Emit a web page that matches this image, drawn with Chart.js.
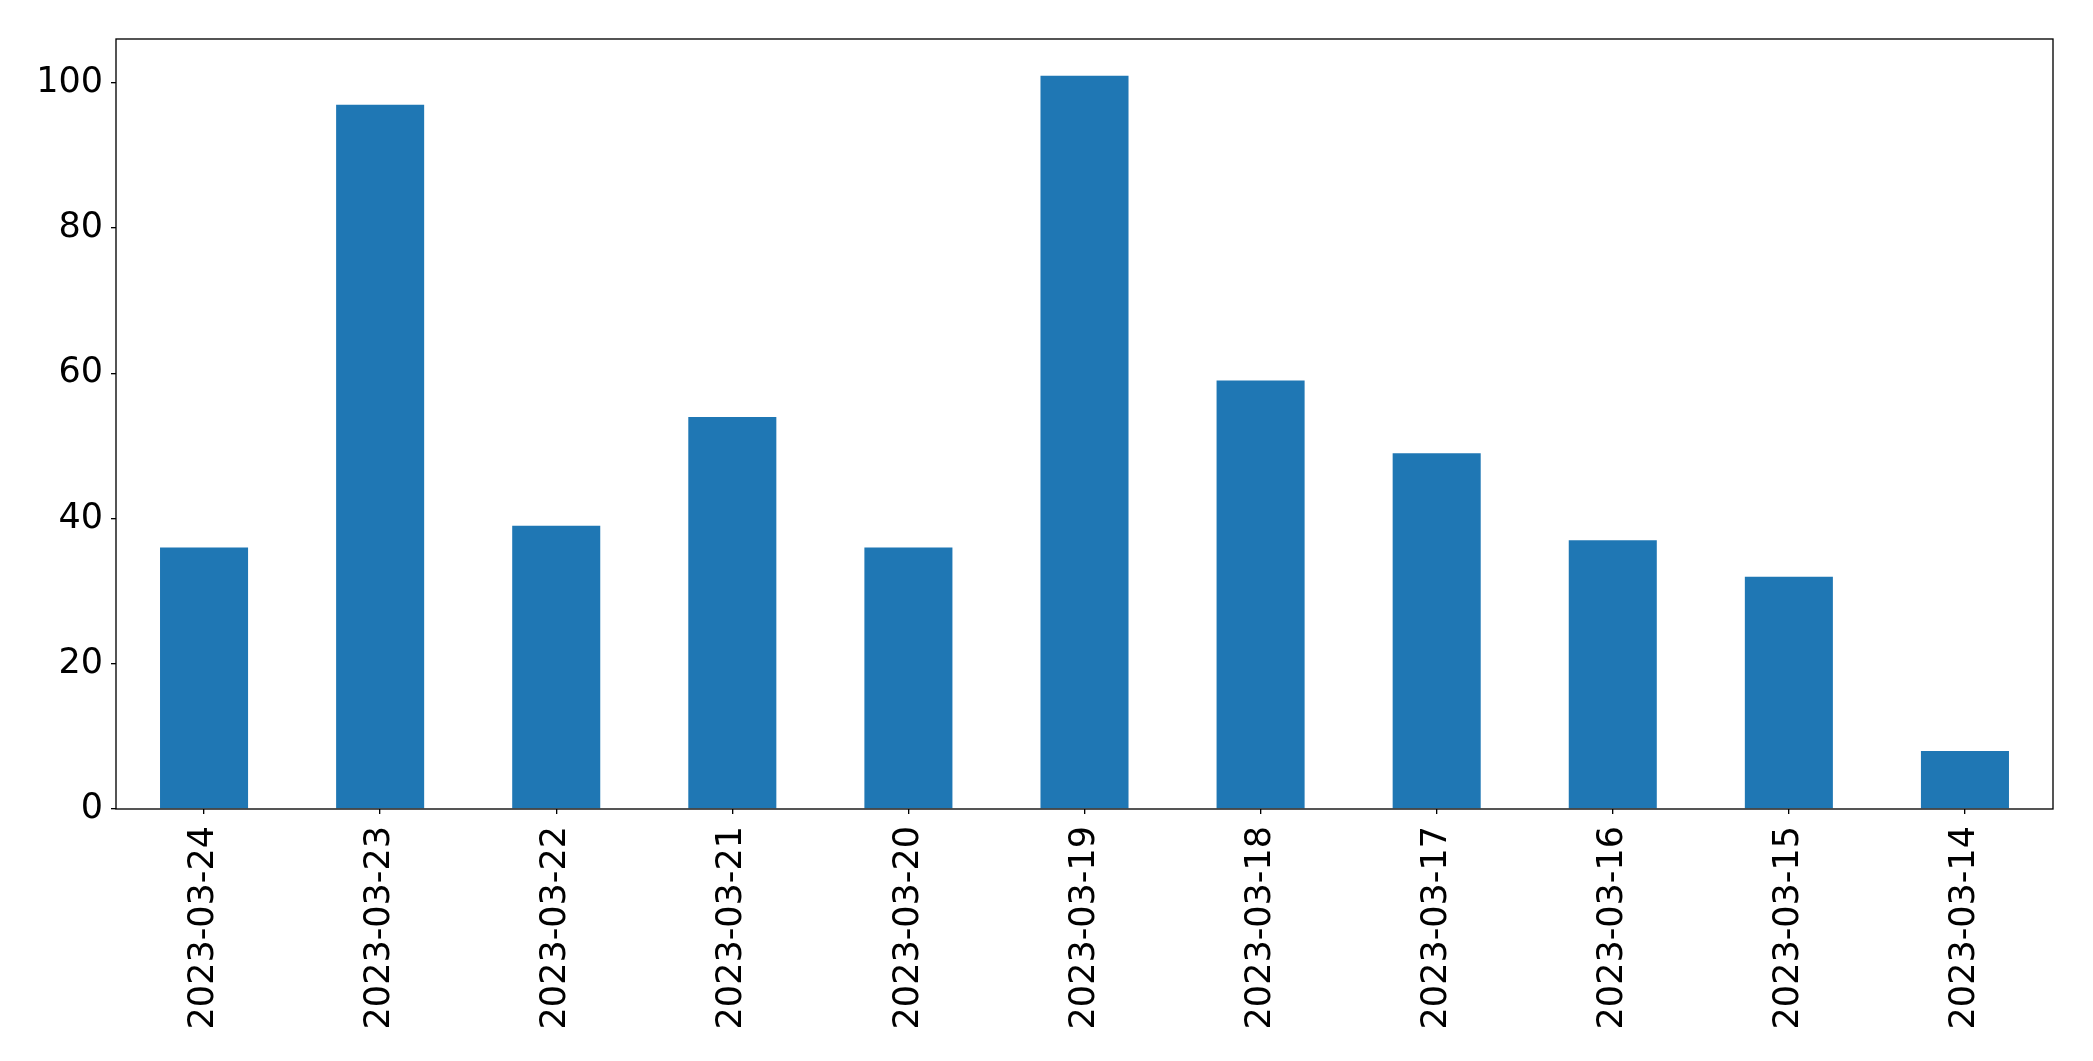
<!DOCTYPE html>
<html>
<head>
<meta charset="utf-8">
<script src="https://cdn.jsdelivr.net/npm/chart.js@4/dist/chart.umd.min.js"></script>
<style>
html,body{margin:0;padding:0;background:#fff;}
#wrap{width:2093px;height:1061px;position:relative;}
</style>
</head>
<body>
<div id="wrap"><canvas id="c" width="2093" height="1061"></canvas></div>
<script>
const categories = ["2023-03-24","2023-03-23","2023-03-22","2023-03-21","2023-03-20","2023-03-19","2023-03-18","2023-03-17","2023-03-16","2023-03-15","2023-03-14"];
const values = [36, 97, 39, 54, 36, 101, 59, 49, 37, 32, 8];
const yTickValues = [0, 20, 40, 60, 80, 100];
const yMax = 106.05;

const frame = {
  id: 'frame',
  afterDraw(chart) {
    const a = chart.chartArea, ctx = chart.ctx;
    ctx.save();
    ctx.strokeStyle = '#000';
    ctx.lineWidth = 1.33;
    ctx.strokeRect(a.left, a.top, a.right - a.left, a.bottom - a.top);
    ctx.restore();
  }
};

new Chart(document.getElementById('c'), {
  type: 'bar',
  data: {
    labels: categories,
    datasets: [{
      data: values,
      backgroundColor: '#1f77b4',
      borderWidth: 0,
      categoryPercentage: 1.0,
      barPercentage: 0.5
    }]
  },
  options: {
    responsive: false,
    animation: false,
    devicePixelRatio: 1,
    layout: { padding: { left: 0, top: 39, right: 40, bottom: 0 } },
    plugins: { legend: { display: false }, tooltip: { enabled: false } },
    scales: {
      x: {
        offset: true,
        grid: { display: true, drawOnChartArea: false, drawTicks: true, tickLength: 5, color: '#000', lineWidth: 1.33, offset: false },
        border: { display: false },
        ticks: {
          color: '#000',
          font: { family: 'DejaVu Sans', size: 35 },
          minRotation: 90, maxRotation: 90,
          padding: 12,
          autoSkip: false
        },
        afterFit(scale) { scale.height = 252; }
      },
      y: {
        min: 0, max: yMax,
        grid: { display: true, drawOnChartArea: false, drawTicks: true, tickLength: 5, color: '#000', lineWidth: 1.33 },
        border: { display: false },
        ticks: {
          color: '#000',
          font: { family: 'DejaVu Sans', size: 35 },
          padding: 8
        },
        afterBuildTicks(scale) { scale.ticks = yTickValues.map(v => ({ value: v })); },
        afterFit(scale) { scale.width = 116; }
      }
    }
  },
  plugins: [frame]
});
</script>
</body>
</html>
